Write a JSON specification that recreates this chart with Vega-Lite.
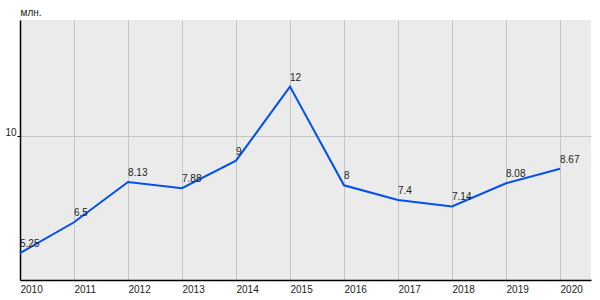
{
  "$schema": "https://vega.github.io/schema/vega-lite/v6.json",
  "width": 571,
  "height": 260,
  "autosize": {"type": "none"},
  "padding": {"left": 20, "top": 20, "right": 9, "bottom": 20},
  "background": "#ffffff",
  "config": {
    "view": {"fill": "#ebebeb", "stroke": null},
    "font": "Liberation Sans"
  },
  "data": {
    "values": [
      {"year": 2010, "value": 5.25, "label": "5.25"},
      {"year": 2011, "value": 6.5, "label": "6.5"},
      {"year": 2012, "value": 8.13, "label": "8.13"},
      {"year": 2013, "value": 7.88, "label": "7.88"},
      {"year": 2014, "value": 9, "label": "9"},
      {"year": 2015, "value": 12, "label": "12"},
      {"year": 2016, "value": 8, "label": "8"},
      {"year": 2017, "value": 7.4, "label": "7.4"},
      {"year": 2018, "value": 7.14, "label": "7.14"},
      {"year": 2019, "value": 8.08, "label": "8.08"},
      {"year": 2020, "value": 8.67, "label": "8.67"}
    ]
  },
  "encoding": {
    "x": {
      "field": "year",
      "type": "quantitative",
      "scale": {"domain": [2010, 2020.574], "nice": false, "zero": false},
      "axis": {
        "values": [2010, 2011, 2012, 2013, 2014, 2015, 2016, 2017, 2018, 2019, 2020],
        "format": "d",
        "title": null,
        "labelAlign": "left",
        "labelFontSize": 10,
        "labelColor": "#222222",
        "labelPadding": 4,
        "labelFlush": false,
        "ticks": false,
        "domainColor": "#000000",
        "domainWidth": 1.5,
        "grid": true,
        "gridColor": "#c4c4c4",
        "gridWidth": 1
      }
    },
    "y": {
      "field": "value",
      "type": "quantitative",
      "scale": {"domain": [4.16, 14.7], "nice": false, "zero": false},
      "axis": {
        "values": [10],
        "title": "млн.",
        "titleAngle": 0,
        "titleAlign": "left",
        "titleBaseline": "bottom",
        "titleX": 0,
        "titleY": -3,
        "titleFontSize": 10,
        "titleFontWeight": "normal",
        "titleColor": "#222222",
        "labelFontSize": 10,
        "labelColor": "#222222",
        "labelPadding": 1,
        "tickSize": 3,
        "tickColor": "#000000",
        "domainColor": "#000000",
        "domainWidth": 1.5,
        "grid": true,
        "gridColor": "#c4c4c4",
        "gridWidth": 1,
        "labelBaseline": "bottom",
        "labelOffset": 2
      }
    }
  },
  "layer": [
    {
      "mark": {"type": "line", "color": "#0050ee", "strokeWidth": 2}
    },
    {
      "mark": {"type": "text", "align": "left", "baseline": "alphabetic", "dy": -6, "fontSize": 10, "color": "#222222"},
      "encoding": {"text": {"field": "label"}}
    }
  ]
}
